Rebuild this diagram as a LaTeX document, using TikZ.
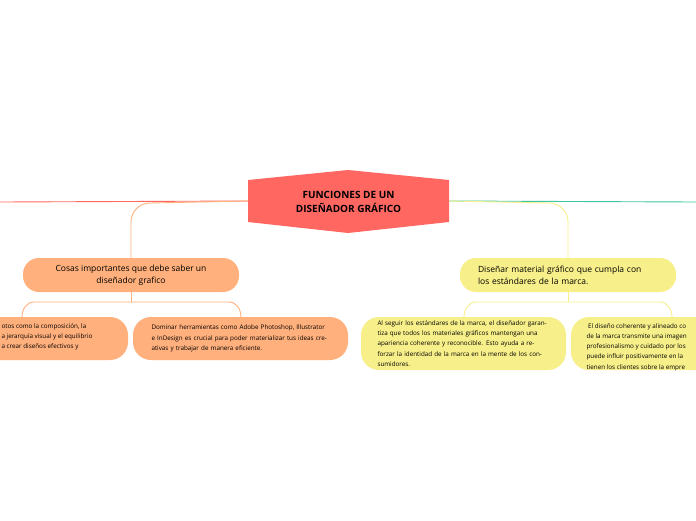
\documentclass[tikz,border=0pt]{standalone}
\usepackage{fontspec}
\setmainfont{Open Sans}
\usetikzlibrary{shapes.geometric,positioning}
\definecolor{MM_rot}{HTML}{FF6760}
\definecolor{MM_orange}{HTML}{FFB07C}
\definecolor{MM_gelb}{HTML}{F7EF8A}
\definecolor{MM_gruen}{HTML}{3CC7A0}
\tikzset{
  topic/.style={draw=none, rectangle, rounded corners=16pt, font=\fontsize{8.5}{12}\selectfont, align=left},
  leaf/.style={draw=none, rectangle, rounded corners=18pt, font=\fontsize{6.3}{10.2}\selectfont, align=left, text width=#1},
  link/.style={line width=0.9pt}
}
\begin{document}
\begin{tikzpicture}[x=1pt, y=-1pt]
\clip (0,0) rectangle (696,520);
\fill[white] (0,0) rectangle (696,520);

% lines behind the nodes
\draw[link, MM_rot] (248,201) -- (0,202);
\draw[link, MM_gruen] (449,201) -- (696,202);
\draw[link, MM_orange] (248,201) -- (150,203) to[out=180,in=90] (131,222) -- (131,258);
\draw[link, MM_gelb] (449,201) -- (549,203) to[out=0,in=90] (568,222) -- (568,258);
\draw[link, MM_orange] (131,292) -- (131,302);
\draw[link, MM_orange] (22,317) to[out=90,in=180] (34,302) -- (229,302) to[out=0,in=90] (241,317);
\draw[link, MM_gelb] (568,292) -- (568,302);
\draw[link, MM_gelb] (464,317) to[out=90,in=180] (476,302) -- (660,302) to[out=0,in=90] (672,317);

% central topic
\node[regular polygon, regular polygon sides=6, shape border rotate=90, fill=MM_rot, minimum size=10pt, inner sep=0pt, xscale=2.2, yscale=-0.55] (hexbg) at (348.5,201.5) {};
\fill[MM_rot] (248,180) -- (348,170) -- (449,180) -- (449,222) -- (348,233) -- (248,222) -- cycle;
\node[font=\fontsize{10}{14}\selectfont\bfseries, align=center] (central) at (348.5,201.5) {FUNCIONES DE UN\\DISEÑADOR GRÁFICO};

% main topics
\node[topic, fill=MM_orange, minimum width=216pt, minimum height=34pt, align=center] (saber) at (131,275) {Cosas importantes que debe saber un\\diseñador grafico};
\node[topic, fill=MM_gelb, minimum width=216pt, minimum height=34pt, text width=180pt] (marca) at (568,275) {Diseñar material gráfico que cumpla con\\los estándares de la marca.};

% subtopics
\fill[MM_orange, rounded corners=18pt] (-60,317) rectangle (128,360);
\node[font=\fontsize{6.3}{10.2}\selectfont, anchor=north west, align=left] (conceptos) at (-2,320) {otos como la composición, la\\a jerarquía visual y el equilibrio\\a crear diseños efectivos y};
\node[leaf=178pt, fill=MM_orange, minimum width=215pt, minimum height=43pt] (herramientas) at (240.5,338.5) {Dominar herramientas como Adobe Photoshop, Illustrator e InDesign es crucial para poder materializar tus ideas creativas y trabajar de manera eficiente.};
\node[leaf=172pt, fill=MM_gelb, minimum width=205pt, minimum height=53pt] (estandares) at (463.5,343.5) {Al seguir los estándares de la marca, el diseñador garantiza que todos los materiales gráficos mantengan una apariencia coherente y reconocible. Esto ayuda a reforzar la identidad de la marca en la mente de los consumidores.};
\fill[MM_gelb, rounded corners=18pt] (571,317) rectangle (760,370);
\node[font=\fontsize{6.3}{10.2}\selectfont, anchor=north west, align=left] (imagen) at (583,320) {\ El diseño coherente y alineado co\\de la marca transmite una imagen\\profesionalismo y cuidado por los\\puede influir positivamente en la\\tienen los clientes sobre la empre};
\end{tikzpicture}
\end{document}
